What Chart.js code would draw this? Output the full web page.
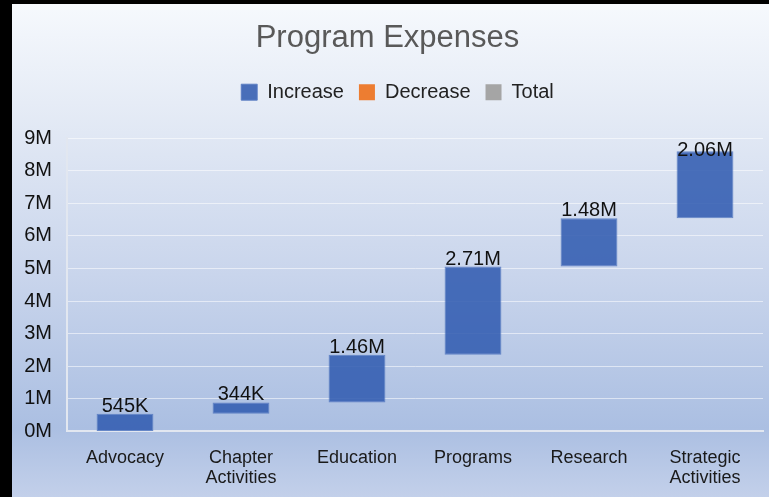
<!DOCTYPE html>
<html>
<head>
<meta charset="utf-8">
<script src="https://cdn.jsdelivr.net/npm/chart.js@4"></script>
<style>
html,body{margin:0;padding:0;background:#000;}
#wrap{position:absolute;left:12px;top:4px;width:757px;height:493px;
background:linear-gradient(to bottom,#f6f9fd 0%,#e6ecf6 20%,#c9d5ec 55%,#abbfe2 86%,#c3d0ea 100%);}
</style>
</head>
<body>
<div id="wrap"><canvas id="mycanvas" width="757" height="493"></canvas></div>
<script>
var categories=[['Advocacy'],['Chapter','Activities'],['Education'],['Programs'],['Research'],['Strategic','Activities']];
var increments=[545000,344000,1460000,2710000,1480000,2060000];
var yTicks=[0,1000000,2000000,3000000,4000000,5000000,6000000,7000000,8000000,9000000];

// floating bars from running total
var ranges=[];
var run=0;
for(var i in increments){
	ranges.push([run,run+increments[i]]);
	run+=increments[i];
}
function fmt(v){
	if(v<1000000) return Math.round(v/1000)+'K';
	return (v/1000000).toFixed(2)+'M';
}
var FONT='"Liberation Sans", Arial, sans-serif';

var labelPlugin={
	id:'barLabels',
	afterDatasetsDraw:function(chart){
		var ctx=chart.ctx;
		var meta=chart.getDatasetMeta(0);
		ctx.save();
		ctx.font='20px '+FONT;
		ctx.fillStyle='#111';
		ctx.textAlign='center';
		ctx.textBaseline='alphabetic';
		meta.data.forEach(function(bar,i){
			var y=Math.max(bar.y-2,chart.chartArea.top+18);
			ctx.fillText(fmt(increments[i]),bar.x,y);
		});
		ctx.restore();
	}
};
// extra room under the legend, and nudge it right a bit
var legendGap={
	id:'legendGap',
	beforeInit:function(chart){
		var lg=chart.legend;
		var fit=lg.fit;
		lg.fit=function(){
			fit.bind(lg)();
			this.height+=26;
		};
		var draw=lg.draw;
		lg.draw=function(){
			chart.ctx.save();
			chart.ctx.translate(10,0);
			draw.apply(lg,arguments);
			chart.ctx.restore();
		};
	}
};

var ctx=document.getElementById('mycanvas');
var chart=new Chart(ctx,{
	type:'bar',
	data:{
		labels:categories,
		datasets:[
		{label:'Increase',data:ranges,backgroundColor:'rgba(50,92,176,0.88)',borderColor:'rgba(90,125,195,0.9)',borderWidth:1,borderSkipped:false},
		{label:'Decrease',data:[],backgroundColor:'#ed7d31',borderColor:'#ed7d31'},
		{label:'Total',data:[],backgroundColor:'#a5a5a5',borderColor:'#a5a5a5'}
		]
	},
	options:{
		responsive:false,
		animation:false,
		layout:{padding:{left:0,right:6,top:10,bottom:0}},
		datasets:{bar:{grouped:false,barPercentage:0.49,categoryPercentage:1}},
		plugins:{
			title:{display:true,text:'Program Expenses',color:'#595959',
				font:{family:FONT,size:31,weight:'normal'},padding:{top:6,bottom:10}},
			legend:{position:'top',labels:{color:'#222',boxWidth:16,boxHeight:16,padding:15,
				font:{family:FONT,size:20}}},
			tooltip:{enabled:false}
		},
		scales:{
			x:{grid:{display:false},border:{color:'#e2e7f0',width:2},
				ticks:{color:'#1a1a1a',padding:9,font:{family:FONT,size:18,lineHeight:1.1}}},
			y:{min:0,max:9000000,afterBuildTicks:function(axis){axis.ticks=yTicks.map(function(v){return {value:v};});},
				afterFit:function(axis){axis.width=55;},
				grid:{color:'rgba(255,255,255,0.55)',drawTicks:false},border:{color:'#e2e7f0',width:2},
				ticks:{color:'#111',padding:15,font:{family:FONT,size:20},
					callback:function(v){return (v/1000000)+'M';}}}
		}
	},
	plugins:[labelPlugin,legendGap]
});
</script>
</body>
</html>
